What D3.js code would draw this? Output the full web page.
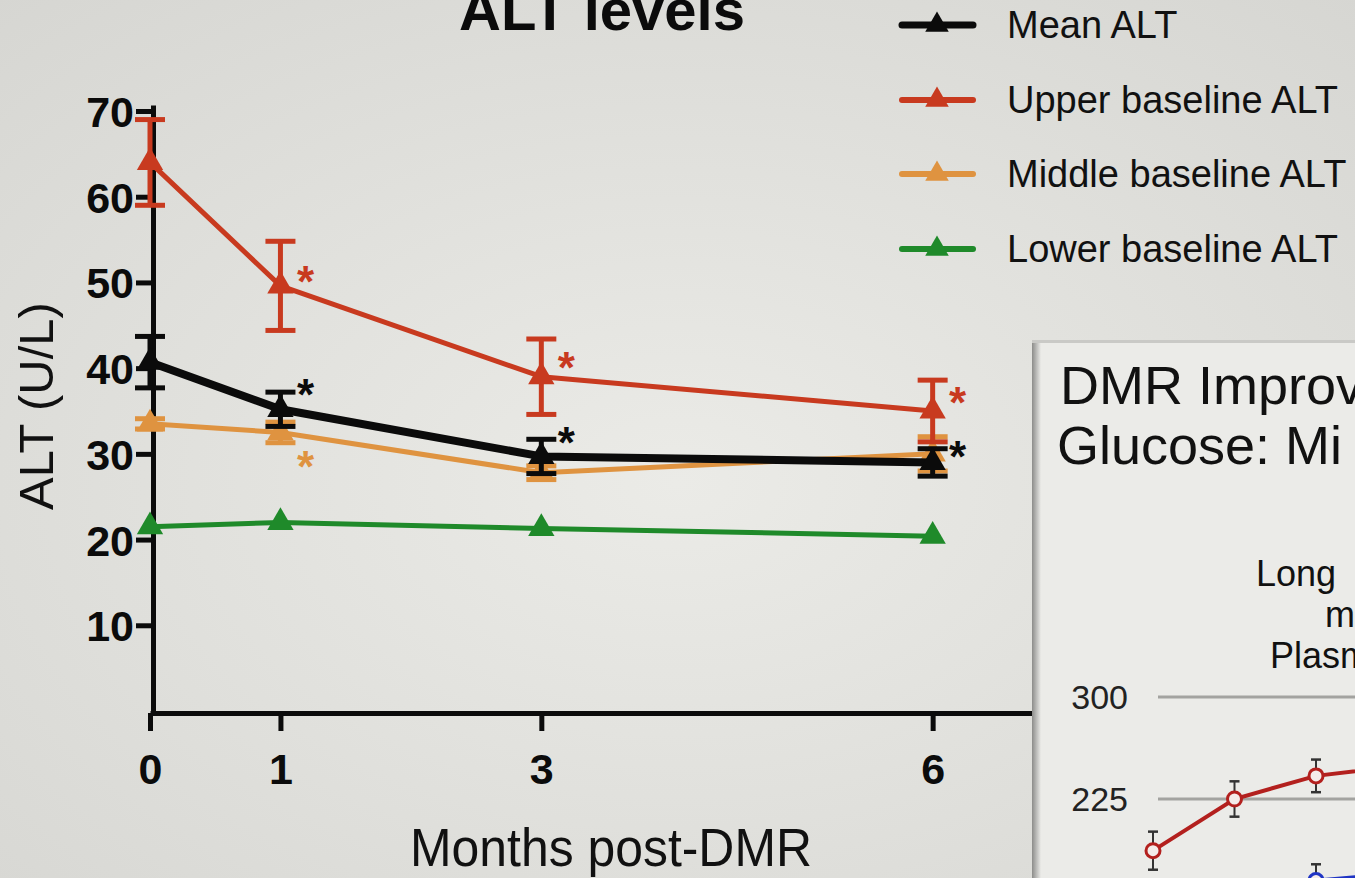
<!DOCTYPE html>
<meta charset="utf-8">
<head>
  <script src="https://d3js.org/d3.v7.min.js"></script>
  <style>
    html, body { margin: 0; padding: 0; background: #e2e2de; overflow: hidden; }
    svg { display: block; font-family: "Liberation Sans", Arial, sans-serif; }
  </style>
</head>
<body>
<script>
"use strict";

// ---- data ----
var months = [0, 1, 3, 6];
var meanALT = [40.7, 35.2, 29.7, 29.0];
var meanErr = [3.0, 2.0, 2.0, 1.6];
var upperALT = [64.0, 49.6, 39.0, 35.0];
var upperErr = [5.0, 5.2, 4.4, 3.6];
var middleALT = [33.5, 32.5, 27.8, 30.0];
var middleErr = [0.6, 1.2, 0.8, 2.0];
var lowerALT = [21.5, 22.0, 21.3, 20.4];
var lowerErr = [0, 0, 0, 0];

var yTicks = [10, 20, 30, 40, 50, 60, 70];
var xTicks = [0, 1, 3, 6];

// significance stars: month + height (U/L) where the star sits
var meanStars = [[1, 38.0], [3, 32.4], [6, 30.8]];
var upperStars = [[1, 51.2], [3, 41.2], [6, 37.1]];
var middleStars = [[1, 29.6]];

var seriesNames = ["Mean ALT", "Upper baseline ALT", "Middle baseline ALT", "Lower baseline ALT"];

// the second slide peeking in at the lower right
var insetIdx = [0, 1, 2, 3];
var insetRed = [187, 225, 242, 249];
var insetRedErr = [14, 13, 12, 12];
var insetBlue = [null, null, 165, 170];
var insetBlueErr = [null, null, 12, 12];
var insetTicks = [225, 300];

var width = 1355, height = 878;

var svg = d3.select("body").append("svg")
    .attr("width", width)
    .attr("height", height);

var defs = svg.append("defs");
var bg = defs.append("radialGradient").attr("id", "bg")
    .attr("cx", "50%").attr("cy", "55%").attr("r", "75%");
bg.append("stop").attr("offset", "0%").attr("stop-color", "#ebebe7");
bg.append("stop").attr("offset", "100%").attr("stop-color", "#d6d6d2");

svg.append("rect").attr("width", width).attr("height", height).attr("fill", "url(#bg)");

var x = d3.scaleLinear().domain([0, 6.8]).range([150, 1037]);
var y = d3.scaleLinear().domain([0, 70.7]).range([711, 105]);

var series = [
  {name: seriesNames[3], vals: lowerALT, err: lowerErr, color: "#1f8a2a", w: 5, stars: []},
  {name: seriesNames[2], vals: middleALT, err: middleErr, color: "#df9340", w: 5, stars: middleStars},
  {name: seriesNames[1], vals: upperALT, err: upperErr, color: "#c83a1f", w: 5, stars: upperStars},
  {name: seriesNames[0], vals: meanALT, err: meanErr, color: "#0b0b0b", w: 8, stars: meanStars}
];

// axes
var yAxis = svg.append("g")
    .attr("transform", "translate(153,0)")
    .call(d3.axisLeft(y).tickValues(yTicks).tickSize(17).tickSizeOuter(0).tickPadding(2));
var xAxis = svg.append("g")
    .attr("transform", "translate(0,713)")
    .call(d3.axisBottom(x).tickValues(xTicks).tickFormat(d3.format("d"))
      .tickSize(18).tickSizeOuter(0).tickPadding(22));

[yAxis, xAxis].forEach(function(a) {
  a.select(".domain").attr("stroke", "#0b0b0b").attr("stroke-width", 5);
  a.selectAll(".tick line").attr("stroke", "#0b0b0b").attr("stroke-width", 5);
  a.selectAll(".tick text")
    .attr("fill", "#0b0b0b")
    .style("font-size", "43px")
    .style("font-weight", "bold")
    .style("font-family", "'Liberation Sans', Arial, sans-serif");
});
yAxis.selectAll(".tick text").attr("dy", "0.36em");

var line = d3.line()
    .x(function(d) { return x(d[0]); })
    .y(function(d) { return y(d[1]); });

var tri = d3.symbol().type(d3.symbolTriangle).size(300);

series.forEach(function(s) {
  var g = svg.append("g");
  var pts = months.map(function(m, i) { return [m, s.vals[i], s.err[i]]; });

  g.append("path")
    .datum(pts)
    .attr("d", line)
    .attr("fill", "none")
    .attr("stroke", s.color)
    .attr("stroke-width", s.w)
    .attr("stroke-linejoin", "round");

  // error bars (skipped where the bar hides inside the marker)
  var eb = g.selectAll(".eb").data(pts.filter(function(d) { return d[2] > 0; })).enter().append("g");
  eb.append("line")
    .attr("x1", function(d) { return x(d[0]); })
    .attr("x2", function(d) { return x(d[0]); })
    .attr("y1", function(d) { return y(d[1] - d[2]); })
    .attr("y2", function(d) { return y(d[1] + d[2]); })
    .attr("stroke", s.color).attr("stroke-width", 5);
  [-1, 1].forEach(function(sign) {
    eb.append("line")
      .attr("x1", function(d) { return x(d[0]) - 15; })
      .attr("x2", function(d) { return x(d[0]) + 15; })
      .attr("y1", function(d) { return y(d[1] + sign * d[2]); })
      .attr("y2", function(d) { return y(d[1] + sign * d[2]); })
      .attr("stroke", s.color).attr("stroke-width", 5);
  });

  g.selectAll(".mk").data(pts).enter().append("path")
    .attr("d", tri)
    .attr("transform", function(d) { return "translate(" + x(d[0]) + "," + y(d[1]) + ")"; })
    .attr("fill", s.color);

  g.selectAll(".star").data(s.stars).enter().append("text")
    .attr("x", function(d) { return x(d[0]) + 25; })
    .attr("y", function(d) { return y(d[1]) + 25; })
    .attr("text-anchor", "middle")
    .attr("fill", s.color)
    .style("font-size", "44px")
    .style("font-weight", "bold")
    .text("*");
});

// title, axis labels
svg.append("text")
    .attr("x", 602).attr("y", 30)
    .attr("text-anchor", "middle")
    .style("font-size", "58px")
    .style("font-weight", "bold")
    .attr("fill", "#0b0b0b")
    .text("ALT levels");

svg.append("text")
    .attr("transform", "translate(53,406) rotate(-90)")
    .attr("text-anchor", "middle")
    .style("font-size", "49px")
    .attr("fill", "#111")
    .text("ALT (U/L)");

svg.append("text")
    .attr("x", 410).attr("y", 866)
    .attr("textLength", 402)
    .attr("lengthAdjust", "spacingAndGlyphs")
    .style("font-size", "54px")
    .attr("fill", "#111")
    .text("Months post-DMR");

// legend
var legendY = [25, 100, 174, 249];
var legendColors = ["#0b0b0b", "#c83a1f", "#df9340", "#1f8a2a"];
var leg = svg.selectAll(".leg").data(seriesNames).enter().append("g")
    .attr("transform", function(d, i) { return "translate(0," + legendY[i] + ")"; });
leg.append("line")
    .attr("x1", 902).attr("x2", 973)
    .attr("stroke", function(d, i) { return legendColors[i]; })
    .attr("stroke-width", function(d, i) { return i === 0 ? 7 : 6; })
    .attr("stroke-linecap", "round");
leg.append("path")
    .attr("d", d3.symbol().type(d3.symbolTriangle).size(240))
    .attr("transform", "translate(937,0)")
    .attr("fill", function(d, i) { return legendColors[i]; });
leg.append("text")
    .attr("x", 1007).attr("y", 13)
    .style("font-size", "38px")
    .attr("fill", "#111")
    .text(function(d) { return d; });

// inset slide at lower right
defs.append("clipPath").attr("id", "insetClip")
  .append("rect").attr("x", 1032).attr("y", 340).attr("width", 323).attr("height", 538);
var sh = defs.append("linearGradient").attr("id", "shadow");
sh.append("stop").attr("offset", "0%").attr("stop-color", "#8c8c8a");
sh.append("stop").attr("offset", "100%").attr("stop-color", "#8c8c8a").attr("stop-opacity", 0);

var inset = svg.append("g").attr("clip-path", "url(#insetClip)");
inset.append("rect").attr("x", 1032).attr("y", 340).attr("width", 323).attr("height", 538)
    .attr("fill", "#ebebe8");
inset.append("rect").attr("x", 1032).attr("y", 340).attr("width", 9).attr("height", 538)
    .attr("fill", "url(#shadow)");
inset.append("rect").attr("x", 1032).attr("y", 340).attr("width", 323).attr("height", 3)
    .attr("fill", "#c9c9c6");

var ix = d3.scaleLinear().domain([0, 3]).range([1153, 1397.5]);
var iy = d3.scaleLinear().domain([225, 300]).range([799, 697]);

inset.append("text").attr("x", 1060).attr("y", 404)
    .style("font-size", "54px").attr("fill", "#111").text("DMR Improv");
inset.append("text").attr("x", 1057).attr("y", 464)
    .style("font-size", "54px").attr("fill", "#111").text("Glucose: Mi");
inset.append("text").attr("x", 1256).attr("y", 586)
    .style("font-size", "36px").attr("fill", "#111").text("Long");
inset.append("text").attr("x", 1325).attr("y", 627)
    .style("font-size", "36px").attr("fill", "#111").text("m");
inset.append("text").attr("x", 1270).attr("y", 668)
    .style("font-size", "36px").attr("fill", "#111").text("Plasm");

inset.selectAll(".grid").data(insetTicks).enter().append("line")
    .attr("x1", 1158).attr("x2", 1360)
    .attr("y1", function(d) { return iy(d); })
    .attr("y2", function(d) { return iy(d); })
    .attr("stroke", "#a3a3a0").attr("stroke-width", 3);
inset.selectAll(".glab").data(insetTicks).enter().append("text")
    .attr("x", 1128)
    .attr("y", function(d) { return iy(d) + 12; })
    .attr("text-anchor", "end")
    .style("font-size", "34px")
    .attr("fill", "#222")
    .text(function(d) { return d; });

function insetSeries(vals, errs, color) {
  var pts = insetIdx.map(function(i) { return [i, vals[i], errs[i]]; })
      .filter(function(d) { return d[1] != null; });
  var ebs = inset.append("g").selectAll("g").data(pts).enter().append("g");
  ebs.append("line")
    .attr("x1", function(d) { return ix(d[0]); }).attr("x2", function(d) { return ix(d[0]); })
    .attr("y1", function(d) { return iy(d[1] - d[2]); }).attr("y2", function(d) { return iy(d[1] + d[2]); })
    .attr("stroke", "#333").attr("stroke-width", 2);
  [-1, 1].forEach(function(sign) {
    ebs.append("line")
      .attr("x1", function(d) { return ix(d[0]) - 5; }).attr("x2", function(d) { return ix(d[0]) + 5; })
      .attr("y1", function(d) { return iy(d[1] + sign * d[2]); })
      .attr("y2", function(d) { return iy(d[1] + sign * d[2]); })
      .attr("stroke", "#333").attr("stroke-width", 2.5);
  });
  inset.append("path").datum(pts)
    .attr("d", d3.line().x(function(d) { return ix(d[0]); }).y(function(d) { return iy(d[1]); }))
    .attr("fill", "none").attr("stroke", color).attr("stroke-width", 4);
  inset.append("g").selectAll("circle").data(pts).enter().append("circle")
    .attr("cx", function(d) { return ix(d[0]); })
    .attr("cy", function(d) { return iy(d[1]); })
    .attr("r", 7)
    .attr("fill", "#f4ecea")
    .attr("stroke", color).attr("stroke-width", 3);
}
insetSeries(insetRed, insetRedErr, "#b3201e");
insetSeries(insetBlue, insetBlueErr, "#1f34c4");
</script>
</body>
